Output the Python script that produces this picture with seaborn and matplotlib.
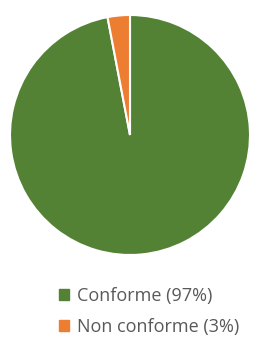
import matplotlib
matplotlib.use("Agg")
import matplotlib.pyplot as plt
import seaborn as sns
from matplotlib.patches import Patch

sns.set_style("white")
plt.rcParams['font.family'] = ['Open Sans', 'DejaVu Sans']

labels = ["Conforme (97%)", "Non conforme (3%)"]
values = [97, 3]
colors = ["#548235", "#ED7D31"]

fig = plt.figure(figsize=(2.75, 3.37), dpi=100)
ax = fig.add_axes([10 / 275, (337 - 255) / 337, 240 / 275, 240 / 337])
ax.pie(values, colors=colors, startangle=90, counterclock=False,
       wedgeprops=dict(edgecolor="white", linewidth=1.5))
ax.set_xlim(-1, 1)
ax.set_ylim(-1, 1)
ax.set_aspect("equal")

handles = [Patch(facecolor=c, edgecolor=c) for c in colors]
leg = fig.legend(handles, labels, loc="upper left", bbox_to_anchor=(50 / 275, 1 - 278 / 337),
                 frameon=False, fontsize=13, handlelength=0.55, handleheight=0.55,
                 handletextpad=0.45, labelspacing=0.72, borderpad=0)
for t in leg.get_texts():
    t.set_color("#595959")

fig.savefig("out.png", dpi=100)
